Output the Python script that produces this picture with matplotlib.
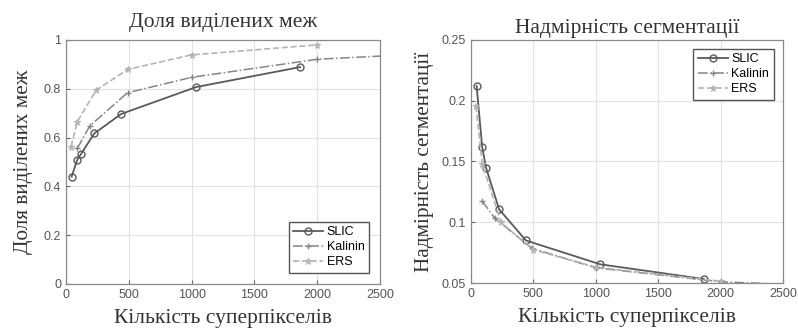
import matplotlib
matplotlib.use("Agg")
import matplotlib.pyplot as plt

# ---- data ----
slic_x = [45, 90, 120, 225, 440, 1035, 1865]
slic_boundary = [0.44, 0.51, 0.533, 0.617, 0.697, 0.807, 0.889]
slic_overseg = [0.2121, 0.1616, 0.145, 0.1107, 0.085, 0.0654, 0.0533]

kalinin_x = [90, 190, 490, 1000, 2000, 3000]
kalinin_boundary = [0.556, 0.648, 0.784, 0.847, 0.921, 0.947]
kalinin_overseg = [0.1174, 0.1033, 0.0785, 0.0625, 0.051, 0.047]

ers_x = [40, 90, 240, 495, 1000, 2000]
ers_boundary = [0.563, 0.665, 0.795, 0.88, 0.939, 0.98]
ers_overseg = [0.1956, 0.148, 0.1, 0.0775, 0.063, 0.0515]

series_names = ["SLIC", "Kalinin", "ERS"]
x_ticks = [0, 500, 1000, 1500, 2000, 2500]
left_yticks = [0, 0.2, 0.4, 0.6, 0.8, 1]
left_yticklabels = ["0", "0.2", "0.4", "0.6", "0.8", "1"]
right_yticks = [0.05, 0.1, 0.15, 0.2, 0.25]
right_yticklabels = ["0.05", "0.1", "0.15", "0.2", "0.25"]

titles = ["Доля виділених меж", "Надмірність сегментації"]
xlabel = "Кількість суперпікселів"
ylabels = ["Доля виділених меж", "Надмірність сегментації"]

serif = ["Liberation Serif", "DejaVu Serif"]
sans = ["Liberation Sans", "DejaVu Sans"]

fig = plt.figure(figsize=(7.98, 3.35), dpi=100)
ax1 = fig.add_axes([66 / 798, 1 - 284 / 335, 314 / 798, 244 / 335])
ax2 = fig.add_axes([471 / 798, 1 - 283 / 335, 312 / 798, 243 / 335])

styles = [
    dict(color="#5a5a5a", ls="-", marker="o", mfc="none", ms=5, lw=1.3, mew=1.0),
    dict(color="#858585", ls="-.", marker="+", ms=5, lw=1.1, mew=1.0),
    dict(color="#b4b4b4", ls="--", marker="*", ms=5, lw=1.2, mew=0.8),
]

def setup(ax, ylim, yticks, yticklabels, title, ylabel, ypad, title_pad):
    ax.set_xlim(0, 2500)
    ax.set_ylim(*ylim)
    ax.set_xticks(x_ticks)
    ax.set_xticklabels([str(t) for t in x_ticks], family=sans, fontsize=9, color="#555555")
    ax.set_yticks(yticks)
    ax.set_yticklabels(yticklabels, family=sans, fontsize=9, color="#555555")
    ax.grid(True, color="#e2e2e2", lw=0.8)
    ax.set_axisbelow(True)
    ax.tick_params(direction="in", length=3, color="#666666", top=False, right=False)
    for s in ax.spines.values():
        s.set_color("#8a8a8a")
        s.set_linewidth(0.9)
    ax.set_title(title, family=serif, fontsize=15.5, color="#333333", pad=title_pad)
    ax.set_xlabel(xlabel, family=serif, fontsize=15.5, color="#333333", labelpad=6)
    ax.set_ylabel(ylabel, family=serif, fontsize=15.3, color="#333333", labelpad=ypad)

legend_kw = dict(prop=dict(family=sans, size=9), frameon=True, fancybox=False,
                 edgecolor="#555555", handlelength=2.4, borderpad=0.35,
                 labelspacing=0.25, handletextpad=0.3, framealpha=1)

# left chart
ax1.plot(slic_x, slic_boundary, label=series_names[0], **styles[0])
ax1.plot(kalinin_x, kalinin_boundary, label=series_names[1], **styles[1])
ax1.plot(ers_x, ers_boundary, label=series_names[2], **styles[2])
setup(ax1, (0, 1), left_yticks, left_yticklabels, titles[0], ylabels[0], 8, 9)
leg1 = ax1.legend(loc="lower right", bbox_to_anchor=(0.985, 0.02), **legend_kw)
leg1.get_frame().set_linewidth(1.0)

# right chart
ax2.plot(slic_x, slic_overseg, label=series_names[0], **styles[0])
ax2.plot(kalinin_x, kalinin_overseg, label=series_names[1], **styles[1])
ax2.plot(ers_x, ers_overseg, label=series_names[2], **styles[2])
setup(ax2, (0.05, 0.25), right_yticks, right_yticklabels, titles[1], ylabels[1], 6, 5)
leg2 = ax2.legend(loc="upper right", bbox_to_anchor=(0.99, 0.99), **legend_kw)
leg2.get_frame().set_linewidth(1.0)

fig.savefig("out.png", dpi=100)
